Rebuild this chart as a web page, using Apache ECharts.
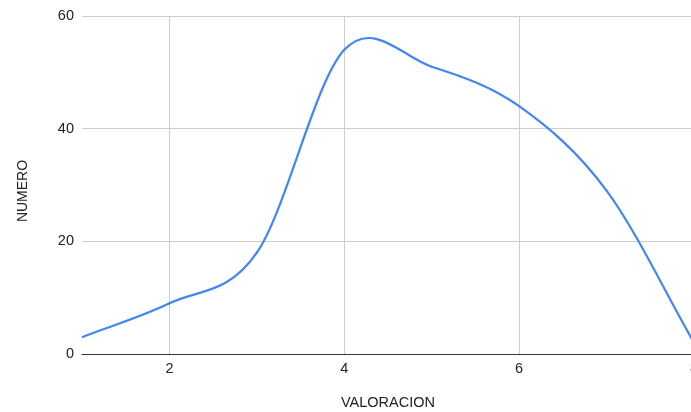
<!DOCTYPE html>
<html>
<head>
<meta charset="utf-8">
<script src="https://cdn.jsdelivr.net/npm/echarts@6/dist/echarts.min.js"></script>
<style>
  html, body { margin: 0; padding: 0; background: #ffffff; }
  #chart { width: 691px; height: 412px; }
</style>
</head>
<body>
<div id="chart"></div>
<script>
// Valoración (1–8) vs número de respuestas
const valoraciones = [1, 2, 3, 4, 5, 6, 7, 8];
const numeros = [3, 9, 18, 54, 51, 44, 29, 2];
const xTicks = [2, 4, 6, 8];
const yTicks = [0, 20, 40, 60];

const chart = echarts.init(document.getElementById('chart'));
const font = 'Arial, "Liberation Sans", sans-serif';
const lineColor = '#4285f4';
const textColor = '#222222';

// Each item draws the cubic segment to the next point (Catmull-Rom style tangents),
// with every position taken from the axes through api.coord.
function renderSegment(params, api) {
  const i = params.dataIndex;
  const n = valoraciones.length;
  if (i >= n - 1) return null;
  const P = valoraciones.map((v, j) => api.coord([v, numeros[j]]));
  const tangent = (j) => {
    if (j === 0) return [P[1][0] - P[0][0], P[1][1] - P[0][1]];
    if (j === n - 1) return [P[n - 1][0] - P[n - 2][0], P[n - 1][1] - P[n - 2][1]];
    return [(P[j + 1][0] - P[j - 1][0]) / 2, (P[j + 1][1] - P[j - 1][1]) / 2];
  };
  const t0 = tangent(i), t1 = tangent(i + 1);
  return {
    type: 'bezierCurve',
    shape: {
      x1: P[i][0], y1: P[i][1],
      x2: P[i + 1][0], y2: P[i + 1][1],
      cpx1: P[i][0] + t0[0] / 3, cpy1: P[i][1] + t0[1] / 3,
      cpx2: P[i + 1][0] - t1[0] / 3, cpy2: P[i + 1][1] - t1[1] / 3
    },
    style: { stroke: lineColor, lineWidth: 2.2, fill: null, lineCap: 'round' }
  };
}

chart.setOption({
  animation: false,
  backgroundColor: '#ffffff',
  grid: { left: 82, right: -3, top: 16, bottom: 58, outerBoundsMode: 'none', containLabel: false },
  xAxis: {
    type: 'value',
    min: 1,
    max: 8,
    name: 'VALORACION',
    nameLocation: 'middle',
    nameGap: 41,
    nameTextStyle: { color: textColor, fontSize: 14.5, fontFamily: font },
    axisLine: { show: true, onZero: false, lineStyle: { color: '#333', width: 1 } },
    axisTick: { show: false, customValues: xTicks },
    axisLabel: { customValues: xTicks, color: textColor, fontSize: 14.5, fontFamily: font, margin: 7 },
    splitLine: { show: true, lineStyle: { color: '#cccccc', width: 1 } }
  },
  yAxis: {
    type: 'value',
    min: 0,
    max: 60,
    interval: 20,
    name: 'NUMERO',
    nameLocation: 'middle',
    nameGap: 52,
    nameRotate: 90,
    nameTextStyle: { color: textColor, fontSize: 14, fontFamily: font, padding: [0, 12, 0, 0] },
    axisLine: { show: false },
    axisTick: { show: false },
    axisLabel: { customValues: yTicks, color: textColor, fontSize: 14.5, fontFamily: font, margin: 8 },
    splitLine: { show: true, lineStyle: { color: '#cccccc', width: 1 } }
  },
  series: [{
    type: 'custom',
    coordinateSystem: 'cartesian2d',
    clip: true,
    data: valoraciones.map((v, i) => [v, numeros[i]]),
    encode: { x: 0, y: 1 },
    renderItem: renderSegment
  }]
});
</script>
</body>
</html>
